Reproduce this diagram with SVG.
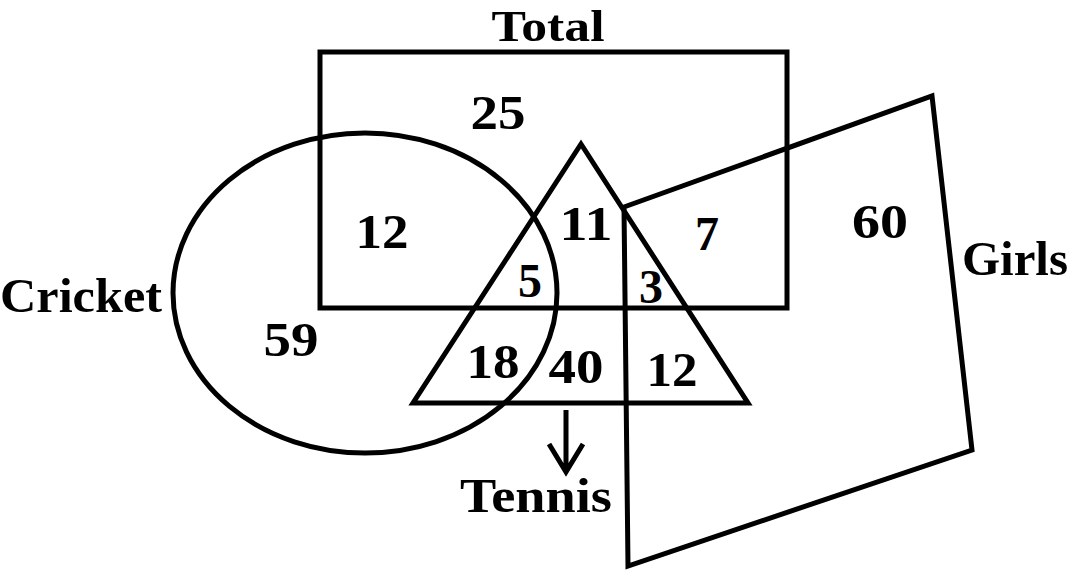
<svg xmlns="http://www.w3.org/2000/svg" width="1068" height="572" viewBox="0 0 1068 572">
<style>
.s{fill:none;stroke:#000;stroke-width:5;stroke-linejoin:miter}
text{font-family:"Liberation Serif","DejaVu Serif",serif;font-weight:bold;font-size:48px;fill:#000;text-anchor:middle}
</style>
<rect width="1068" height="572" fill="#fff"/>
<g id="total"><rect class="s" x="320" y="52" width="467" height="256"/><text x="548" y="41" style="font-size:45px" textLength="113" lengthAdjust="spacingAndGlyphs">Total</text></g>
<g id="cricket"><ellipse class="s" cx="365" cy="293" rx="192" ry="160"/><text x="81" y="312" textLength="162" lengthAdjust="spacingAndGlyphs">Cricket</text></g>
<g id="tennis"><polygon class="s" points="581,144 748,403 413,403"/><text x="536" y="512" textLength="152" lengthAdjust="spacingAndGlyphs">Tennis</text></g>
<g id="girls"><polygon class="s" points="624,207 932,96 972,450 628,566"/><text x="1015" y="275" textLength="106" lengthAdjust="spacingAndGlyphs">Girls</text></g>
<g id="connectors"><path class="s" d="M566,410 V472 M549,444 L566,472 L583,444" fill="none"/></g>
<g id="numbers">
<text x="498" y="129" textLength="55" lengthAdjust="spacingAndGlyphs">25</text>
<text x="382" y="248" textLength="53" lengthAdjust="spacingAndGlyphs">12</text>
<text x="586" y="240" textLength="53" lengthAdjust="spacingAndGlyphs">11</text>
<text x="707" y="250">7</text>
<text x="530" y="297">5</text>
<text x="651" y="303">3</text>
<text x="880" y="238" textLength="56" lengthAdjust="spacingAndGlyphs">60</text>
<text x="291" y="356" textLength="55" lengthAdjust="spacingAndGlyphs">59</text>
<text x="493" y="378" textLength="53" lengthAdjust="spacingAndGlyphs">18</text>
<text x="576" y="383" textLength="55" lengthAdjust="spacingAndGlyphs">40</text>
<text x="672" y="386" textLength="51" lengthAdjust="spacingAndGlyphs">12</text>
</g>
</svg>
